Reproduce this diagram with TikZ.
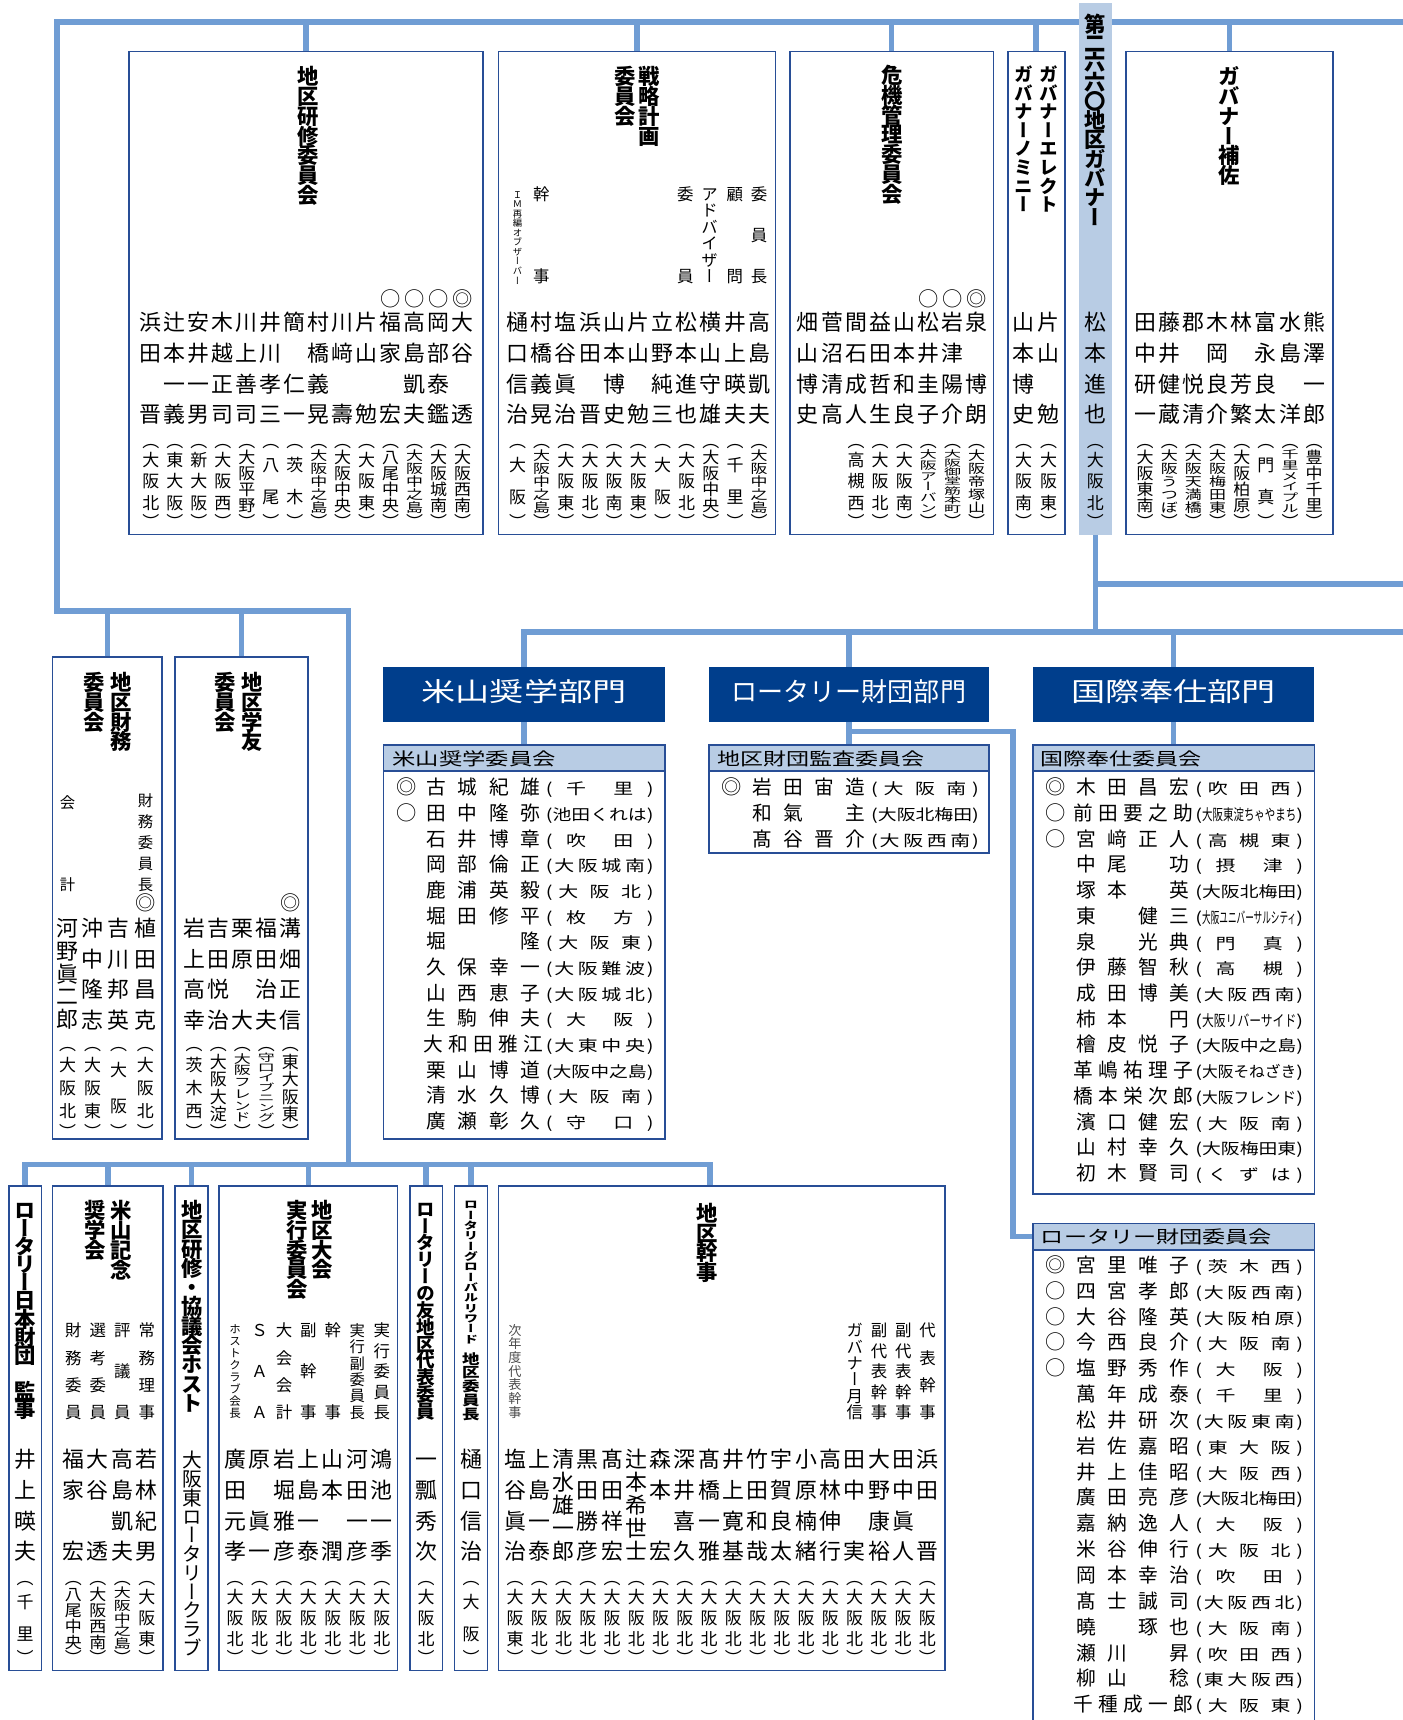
\documentclass[tikz,border=0pt]{standalone}
\usepackage{fontspec}
\usepackage{graphicx}
\usetikzlibrary{fit}
\setmainfont{Noto Sans CJK JP}
\newfontfamily\vertfont[RawFeature=+vert]{Noto Sans CJK JP}
\newfontfamily\widefont[FakeStretch=1.3]{Noto Sans CJK JP}
\definecolor{linecol}{RGB}{112,157,212}
\definecolor{boxcol}{RGB}{40,78,150}
\definecolor{govfill}{RGB}{184,204,228}
\definecolor{deptcol}{RGB}{0,62,140}

\newdimen\upx \upx=0.5690551pt
\newdimen\vje \newdimen\vjd \newcount\vjn
\newdimen\clubH \clubH=58\upx
\newdimen\pshift \pshift=0pt
\newcommand\setfs[1]{\fontsize{#1}{#1}\selectfont}
\def\vjbox#1{\hbox to\vje{\hss\vrule height.88em depth.12em width0pt\relax#1\hss}}
\def\vjcount#1{\ifx#1\relax\else\advance\vjn by1 \expandafter\vjcount\fi}
\def\vtloop#1{\ifx#1\relax\else\vjbox{#1}\vskip\vjd\relax\expandafter\vtloop\fi}
\def\vjbloop#1{\ifx#1\relax\else\vjbox{#1}\vss\expandafter\vjbloop\fi}
\def\vjaloop#1{\ifx#1\relax\else\vss\vjbox{#1}\vss\expandafter\vjaloop\fi}
\def\vjtloop#1{\ifx#1\relax\else\vjbox{#1}\expandafter\vjtloop\fi}
\def\hjaloop#1{\ifx#1\relax\else\hss\hbox{#1}\hss\expandafter\hjaloop\fi}
\newcommand\vt[2][28\upx]{\edef\vttmp{#2}\vbox{\offinterlineskip\vje=1em
  \vjd=#1\relax\advance\vjd by-1em\relax\expandafter\vtloop\vttmp\relax\unskip}}
\newcommand\vjb[2]{\edef\vttmp{#2}\vbox to#1{\offinterlineskip\vje=1em\expandafter\vjbloop\vttmp\relax\unskip}}
\newcommand\vja[2]{\edef\vttmp{#2}\vjn=0 \expandafter\vjcount\vttmp\relax
  \vjd=1em \multiply\vjd by\vjn
  \ifdim\vjd>#1\relax
    \hbox{\resizebox*{\width}{#1}{\vbox{\offinterlineskip\expandafter\vjtloop\vttmp\relax}}}%
  \else
    \vbox to#1{\offinterlineskip\expandafter\vjaloop\vttmp\relax}%
  \fi}
\newcommand\club[2][\clubH]{\vbox{\offinterlineskip\vje=1em
  \vbox to0pt{\vss\vjbox{︵}\kern\pshift}%
  \vja{#1}{#2}%
  \vbox to0pt{\kern\pshift\vjbox{︶}\vss}}}
\newcommand\hja[2]{\edef\vttmp{#2}\setbox0\hbox{\vttmp}%
  \ifdim\wd0>#1\relax\resizebox{#1}{\height}{\vttmp}%
  \else\hbox to#1{\expandafter\hjaloop\vttmp\relax}\fi}
\newcommand\vname[1]{\edef\vttmp{#1}\vjn=0 \expandafter\vjcount\vttmp\relax
  \ifnum\vjn>4 \vjb{101\upx}{\vttmp}\else\vt{\vttmp}\fi}

\tikzset{
  conn/.style={draw=linecol, line width=2.85pt},
  box/.style={draw=boxcol, line width=0.9pt, inner sep=0pt},
  govbox/.style={fill=govfill, inner sep=0pt},
  deptbox/.style={fill=deptcol, inner sep=0pt},
  depttxt/.style={inner sep=0pt, text=white, font=\setfs{13.6pt}, text height=.88em, text depth=.12em},
  headbox/.style={fill=govfill, draw=boxcol, line width=0.9pt, inner sep=0pt},
  headtxt/.style={anchor=west, inner sep=0pt, font=\setfs{9.1pt}, text height=.88em, text depth=.12em},
  ttl/.style={anchor=north, inner sep=0pt, font=\vertfont\bfseries\setfs{11.1pt}},
  ttls/.style={ttl, font=\vertfont\bfseries\setfs{9.67pt}},
  nmcol/.style={anchor=north, inner sep=0pt, font=\vertfont\setfs{11.38pt}},
  clcol/.style={anchor=north, inner sep=0pt, font=\vertfont\setfs{8.82pt}},
  role/.style={anchor=north, inner sep=0pt, font=\vertfont\setfs{8.54pt}},
  mk/.style={inner sep=0pt, font=\setfs{10.53pt}, text height=.88em, text depth=.12em},
  lnm/.style={anchor=west, inner sep=0pt, font=\setfs{10.24pt}, text height=.88em, text depth=.12em},
  lcl/.style={anchor=west, inner sep=0pt, font=\widefont\setfs{7.97pt}, text height=.88em, text depth=.12em},
}

\begin{document}
\begin{tikzpicture}[x=0.02cm,y=-0.02cm]
\useasboundingbox (0,0) rectangle (1280,1570.3);

\coordinate (topL) at (52,20);
\coordinate (topR) at (1290,20);
\coordinate (midL) at (52,558);
\coordinate (midR) at (318,558);
\coordinate (lowL) at (23,1063);
\coordinate (lowR) at (648,1063);
\coordinate (busA) at (1290,533);
\coordinate (busB) at (1290,577);
\coordinate (rfbend) at (925,668);
\draw[conn] (topR) -- (topL) -- (midL) -- (midR) -- (midR |- lowL);

\node[box, fit={(118,47) (441,488)}] (k1) {};
\node[box, fit={(455,47) (708,488)}] (k2) {};
\node[box, fit={(721,47) (907,488)}] (k3) {};
\node[box, fit={(920,47) (972,488)}] (k4) {};
\node[govbox, fit={(985,3) (1015,488)}] (gov) {};
\node[box, fit={(1028,47) (1217,488)}] (k5) {};
\node[box, fit={(48,600) (148,1040)}] (zaimu) {};
\node[box, fit={(160,600) (281,1040)}] (gakuyu) {};
\node[deptbox, fit={(350,609) (607,659)}] (yonedept) {};
\node[deptbox, fit={(647,609) (903,659)}] (rfdept) {};
\node[deptbox, fit={(943,609) (1200,659)}] (intldept) {};
\node[box, fit={(350,680) (607,1040)}] (yonebox) {};
\node[headbox, fit={(350,680) (607,704)}] (yonehd) {};
\node[box, fit={(647,680) (903,779)}] (auditbox) {};
\node[headbox, fit={(647,680) (903,704)}] (audithd) {};
\node[box, fit={(943,680) (1200,1090)}] (intlbox) {};
\node[headbox, fit={(943,680) (1200,704)}] (intlhd) {};
\node[box, fit={(943,1117) (1200,1585)}] (rfbox) {};
\node[headbox, fit={(943,1117) (1200,1141)}] (rfhd) {};
\node[box, fit={(8,1083) (38,1525)}] (nfound) {};
\node[box, fit={(48,1083) (149,1525)}] (yfund) {};
\node[box, fit={(160,1083) (190,1525)}] (hostc) {};
\node[box, fit={(200,1083) (363,1525)}] (taikai) {};
\node[box, fit={(374,1083) (404,1525)}] (tomo) {};
\node[box, fit={(415,1083) (445,1525)}] (grw) {};
\node[box, fit={(455,1083) (863,1525)}] (kanji) {};

\foreach \b in {k1,k2,k3,k4,k5} \draw[conn] (\b.north) -- (\b.north |- topL);
\foreach \b in {zaimu,gakuyu} \draw[conn] (\b.north) -- (\b.north |- midL);
\draw[conn] (nfound.north) -- (nfound.north |- lowL) -- (lowR) -- (lowR |- kanji.north);
\foreach \b in {yfund,hostc,taikai,tomo,grw} \draw[conn] (\b.north) -- (\b.north |- lowL);
\draw[conn] (gov.south) -- (gov.south |- busB);
\draw[conn] (gov.south |- busA) -- (busA);
\draw[conn] (yonedept.north) -- (yonedept.north |- busB) -- (busB);
\foreach \b in {rfdept,intldept} \draw[conn] (\b.north) -- (\b.north |- busB);
\draw[conn] (yonedept.south) -- (yonehd.north);
\draw[conn] (rfdept.south) -- (audithd.north);
\draw[conn] (intldept.south) -- (intlhd.north);
\draw[conn] (rfbend -| rfdept.south) -- (rfbend) |- (rfhd.west);

\node[depttxt] (yonedeptt) at (yonedept.center) {\resizebox{187\upx}{\height}{米山奨学部門}};
\node[depttxt] (rfdeptt) at (rfdept.center) {\resizebox{214\upx}{\height}{ロータリー財団部門}};
\node[depttxt] (intldeptt) at (intldept.center) {\resizebox{187\upx}{\height}{国際奉仕部門}};
\node[headtxt] (yonehdt) at (358,692) {\resizebox{149\upx}{\height}{米山奨学委員会}};
\node[headtxt] (audithdt) at (655,692) {\resizebox{189\upx}{\height}{地区財団監査委員会}};
\node[headtxt] (intlhdt) at (950,692) {\resizebox{147\upx}{\height}{国際奉仕委員会}};
\node[headtxt] (rfhdt) at (950,1129) {\resizebox{211\upx}{\height}{ロータリー財団委員会}};

% top row
\clubH=58.5\upx
\node[ttl] (k1t) at (281,60) {\vt[18\upx]{地区研修委員会}};
\foreach \mrk/\k in {○/11,○/12,○/13,◎/14} \node[mk] (k1m\k) at ({137.7+21.9*(\k-1)},273) {\mrk};
\foreach \nam/\clb [count=\i] in {浜田　晋/大阪北,辻本一義/東大阪,安井一男/新大阪,木越正司/大阪西,川上善司/大阪平野,井川孝三/八尾,簡　仁一/茨木,村橋義晃/大阪中之島,川﨑　壽/大阪中央,片山　勉/大阪東,福家　宏/八尾中央,高島凱夫/大阪中之島,岡部泰鑑/大阪城南,大谷　透/大阪西南}{
  \node[nmcol] (k1n\i) at ({137.7+21.9*(\i-1)},284) {\vname{\nam}};
  \node[clcol] (k1c\i) at ({137.7+21.9*(\i-1)},410) {\club{\clb}};}

\node[ttl] (k2ta) at (593,60) {\vt[18\upx]{戦略計画}};
\node[ttl] (k2tb) at (570.5,60) {\vt[18\upx]{委員会}};
\node[role] (k2r1) at (693.1,169.2) {\vjb{88.5\upx}{委員長}};
\node[role] (k2r2) at (670.8,169.2) {\vjb{88.5\upx}{顧問}};
\node[role] (k2r3) at (647.9,169.2) {\vjb{88.5\upx}{アドバイザー}};
\node[role] (k2r4) at (625.6,169.2) {\vjb{88.5\upx}{委員}};
\node[role] (k2r5) at (494.2,169.2) {\vjb{88.5\upx}{幹事}};
\node[role, font=\vertfont\setfs{4.84pt}] (k2r6) at (472.5,173) {\vjb{86\upx}{ＩＭ再編オブザーバー}};
\foreach \nam/\clb [count=\i] in {樋口信治/大阪,村橋義晃/大阪中之島,塩谷眞治/大阪東,浜田　晋/大阪北,山本博史/大阪南,片山　勉/大阪東,立野純三/大阪,松本進也/大阪北,横山守雄/大阪中央,井上暎夫/千里,高島凱夫/大阪中之島}{
  \node[nmcol] (k2n\i) at ({472.5+22.06*(\i-1)},284) {\vname{\nam}};
  \node[clcol] (k2c\i) at ({472.5+22.06*(\i-1)},410) {\club{\clb}};}

\node[ttl] (k3t) at (814.7,59) {\vt[18\upx]{危機管理委員会}};
\foreach \mrk/\k in {○/6,○/7,◎/8} \node[mk] (k3m\k) at ({737.6+22*(\k-1)},273) {\mrk};
\foreach \nam [count=\i] in {畑山博史,菅沼清高,間石成人,益田哲生,山本和良,松井圭子,岩津陽介,泉　博朗}
  \node[nmcol] (k3n\i) at ({737.6+22*(\i-1)},284) {\vname{\nam}};
\foreach \clb [count=\i from 3] in {高槻西,大阪北,大阪南,大阪アーバン,大阪御堂筋本町,大阪帝塚山}
  \node[clcol] (k3c\i) at ({737.6+22*(\i-1)},410) {\club{\clb}};

\node[ttls] (k4ta) at (957.3,59) {\vt[17\upx]{ガバナーエレクト}};
\node[ttls] (k4tb) at (934.5,59) {\vt[17\upx]{ガバナーノミニー}};
\node[nmcol] (k4na) at (957.3,284) {\vname{片山　勉}};
\node[clcol] (k4ca) at (957.3,410) {\club{大阪東}};
\node[nmcol] (k4nb) at (934.5,284) {\vname{山本博史}};
\node[clcol] (k4cb) at (934.5,410) {\club{大阪南}};

\node[ttl] (govt) at (1000,12) {\vt[17.6\upx]{第二六六〇地区ガバナー}};
\node[nmcol] (govn) at (1000,284) {\vname{松本進也}};
\node[clcol] (govc) at (1000,410) {\club{大阪北}};

\node[ttl] (k5t) at (1122.6,60) {\vt[18\upx]{ガバナー補佐}};
\foreach \nam/\clb [count=\i] in {田中研一/大阪東南,藤井健蔵/大阪うつぼ,郡　悦清/大阪天満橋,木岡良介/大阪梅田東,林　芳繁/大阪柏原,富永良太/門真,水島　洋/千里メイプル,熊澤一郎/豊中千里}{
  \node[nmcol] (k5n\i) at ({1045.5+22.04*(\i-1)},284) {\vname{\nam}};
  \node[clcol] (k5c\i) at ({1045.5+22.04*(\i-1)},410) {\club{\clb}};}

% left boxes
\clubH=64\upx
\node[ttl] (zaimuta) at (110.5,613) {\vt[18\upx]{地区財務}};
\node[ttl] (zaimutb) at (86,613) {\vt[18\upx]{委員会}};
\node[role, font=\vertfont\setfs{7.97pt}] (zaimur1) at (132.8,723.7) {\vjb{88.6\upx}{財務委員長}};
\node[role, font=\vertfont\setfs{7.97pt}] (zaimur2) at (61.7,725) {\vjb{87.3\upx}{会計}};
\node[mk] (zaimum) at (132.8,825) {◎};
\foreach \nam/\clb/\x [count=\i] in {河野眞二郎/大阪北/61.7,沖中隆志/大阪東/84.6,吉川邦英/大阪/108.4,植田昌克/大阪北/132.8}{
  \node[nmcol] (zaimun\i) at (\x,837) {\vname{\nam}};
  \node[clcol] (zaimuc\i) at (\x,961) {\club{\clb}};}

\node[ttl] (gakuyuta) at (230.3,613) {\vt[18\upx]{地区学友}};
\node[ttl] (gakuyutb) at (206,613) {\vt[18\upx]{委員会}};
\node[mk] (gakuyum) at (265.1,825) {◎};
\foreach \nam/\clb [count=\i] in {岩上高幸/茨木西,吉田悦治/大阪大淀,栗原　大/大阪フレンド,福田治夫/守口イブニング,溝畑正信/東大阪東}{
  \node[nmcol] (gakuyun\i) at ({177.3+21.95*(\i-1)},837) {\vname{\nam}};
  \node[clcol] (gakuyuc\i) at ({177.3+21.95*(\i-1)},961) {\club{\clb}};}

% bottom row
\clubH=58\upx
\node[ttl] (nfoundt) at (23,1095) {\vt[16.5\upx]{ロータリー日本財団　監事}};
\node[nmcol] (nfoundn) at (23,1322) {\vname{井上暎夫}};
\node[clcol] (nfoundc) at (23,1448) {\club{千里}};

\node[ttl] (yfundta) at (111,1095) {\vt[18.3\upx]{米山記念}};
\node[ttl] (yfundtb) at (86.8,1095) {\vt[18.3\upx]{奨学会}};
\foreach \r [count=\i] in {財務委員,選考委員,評議員,常務理事}
  \node[role] (yfundr\i) at ({67+22.33*(\i-1)},1207) {\vjb{87.7\upx}{\r}};
\foreach \nam/\clb [count=\i] in {福家　宏/八尾中央,大谷　透/大阪西南,高島凱夫/大阪中之島,若林紀男/大阪東}{
  \node[nmcol] (yfundn\i) at ({67+22.33*(\i-1)},1322) {\vname{\nam}};
  \node[clcol] (yfundc\i) at ({67+22.33*(\i-1)},1448) {\club{\clb}};}

\node[ttl] (hostct) at (175.5,1095) {\vt[17.6\upx]{地区研修・協議会ホスト}};
\node[nmcol, font=\vertfont\setfs{10.24pt}] (hostcn) at (175.5,1324) {\vt[17.1\upx]{大阪東ロータリークラブ}};

\node[ttl] (taikaita) at (293.8,1095) {\vt[18\upx]{地区大会}};
\node[ttl] (taikaitb) at (271,1095) {\vt[18\upx]{実行委員会}};
\node[role, font=\vertfont\setfs{5.98pt}] (taikair1) at (214.6,1208) {\vjb{85.7\upx}{ホストクラブ会長}};
\node[role] (taikair2) at (236.9,1207) {\vjb{87.7\upx}{ＳＡＡ}};
\node[role] (taikair3) at (259.3,1207) {\vjb{87.7\upx}{大会会計}};
\node[role] (taikair4) at (281.6,1207) {\vjb{87.7\upx}{副幹事}};
\node[role] (taikair5) at (303.9,1207) {\vjb{87.7\upx}{幹事}};
\node[role, font=\vertfont\setfs{7.97pt}] (taikair6) at (326.2,1207.5) {\vjb{86.8\upx}{実行副委員長}};
\node[role] (taikair7) at (348.6,1207) {\vjb{87.7\upx}{実行委員長}};
\foreach \nam [count=\i] in {廣田元孝,原　眞一,岩堀雅彦,上島一泰,山本　潤,河田一彦,鴻池一季}{
  \node[nmcol] (taikain\i) at ({214.6+22.33*(\i-1)},1322) {\vname{\nam}};
  \node[clcol] (taikaic\i) at ({214.6+22.33*(\i-1)},1448) {\club{大阪北}};}

\node[ttls] (tomot) at (389,1095) {\vt[15.4\upx]{ロータリーの友地区代表委員}};
\node[nmcol] (tomon) at (389,1322) {\vname{一瓢秀次}};
\node[clcol] (tomoc) at (389,1448) {\club{大阪北}};

\node[ttl, font=\vertfont\bfseries\setfs{7.4pt}] (grwta) at (430,1095) {\resizebox*{\width}{132\upx}{\vt[13\upx]{ロータリーグローバルリワード}}};
\node[ttl, font=\vertfont\bfseries\setfs{9.1pt}] (grwtb) at (430,1234) {\resizebox*{\width}{63\upx}{\vt[16\upx]{地区委員長}}};
\node[nmcol] (grwn) at (430,1322) {\vname{樋口信治}};
\node[clcol] (grwc) at (430,1448) {\club{大阪}};

\node[ttl] (kanjit) at (646,1098) {\vt[17.7\upx]{地区幹事}};
\node[role, font=\vertfont\setfs{6.83pt}, text=black!70] (kanjir1) at (470.2,1208) {\vjb{85.6\upx}{次年度代表幹事}};
\node[role] (kanjir15) at (780.4,1207) {\vjb{87.7\upx}{ガバナー月信}};
\node[role] (kanjir16) at (802.6,1207) {\vjb{87.7\upx}{副代表幹事}};
\node[role] (kanjir17) at (824.7,1207) {\vjb{87.7\upx}{副代表幹事}};
\node[role] (kanjir18) at (846.8,1207) {\vjb{87.7\upx}{代表幹事}};
\foreach \nam/\clb [count=\i] in {塩谷眞治/大阪東,上島一泰/大阪北,清水雄一郎/大阪北,黒田勝彦/大阪北,髙田祥宏/大阪北,辻本希世士/大阪北,森本　宏/大阪北,深井喜久/大阪北,髙橋一雅/大阪北,井上寛基/大阪北,竹田和哉/大阪北,宇賀良太/大阪北,小原楠緒/大阪北,高林伸行/大阪北,田中　実/大阪北,大野康裕/大阪北,田中眞人/大阪北,浜田　晋/大阪北}{
  \node[nmcol] (kanjin\i) at ({470.2+22.15*(\i-1)},1322) {\vname{\nam}};
  \node[clcol] (kanjic\i) at ({470.2+22.15*(\i-1)},1448) {\club{\clb}};}

% horizontal lists
\foreach \mrk/\nam/\clb [count=\i] in {◎/古城紀雄/千里,○/田中隆弥/池田くれは,/石井博章/吹田,/岡部倫正/大阪城南,/鹿浦英毅/大阪北,/堀田修平/枚方,/堀　　隆/大阪東,/久保幸一/大阪難波,/山西恵子/大阪城北,/生駒伸夫/大阪,/大和田雅江/大東中央,/栗山博道/大阪中之島,/清水久博/大阪南,/廣瀬彰久/守口}{
  \node[mk] (ym\i) at (371,{719+23.42*(\i-1)}) {\mrk};
  \node[lnm] (yn\i) at (384,{719+23.42*(\i-1)}) {\hja{114\upx}{\nam}};
  \node[lcl] (yc\i) at (498,{719+23.42*(\i-1)}) {(\hja{86\upx}{\clb})};}

\foreach \mrk/\nam/\clb [count=\i] in {◎/岩田宙造/大阪南,/和氣　主/大阪北梅田,/髙谷晋介/大阪西南}{
  \node[mk] (am\i) at (668,{719+23.5*(\i-1)}) {\mrk};
  \node[lnm] (an\i) at (681,{719+23.5*(\i-1)}) {\hja{114\upx}{\nam}};
  \node[lcl] (ac\i) at (795,{719+23.5*(\i-1)}) {(\hja{86\upx}{\clb})};}

\foreach \mrk/\nam/\clb [count=\i] in {◎/木田昌宏/吹田西,○/前田要之助/大阪東淀ちゃやまち,○/宮﨑正人/高槻東,/中尾　功/摂津,/塚本　英/大阪北梅田,/東　健三/大阪ユニバーサルシティ,/泉　光典/門真,/伊藤智秋/高槻,/成田博美/大阪西南,/柿本　円/大阪リバーサイド,/檜皮悦子/大阪中之島,/革嶋祐理子/大阪そねざき,/橋本栄次郎/大阪フレンド,/濱口健宏/大阪南,/山村幸久/大阪梅田東,/初木賢司/くずは}{
  \node[mk] (im\i) at (964,{719+23.47*(\i-1)}) {\mrk};
  \node[lnm] (in\i) at (977,{719+23.47*(\i-1)}) {\hja{114\upx}{\nam}};
  \node[lcl] (ic\i) at (1091,{719+23.47*(\i-1)}) {(\hja{86\upx}{\clb})};}

\foreach \mrk/\nam/\clb [count=\i] in {◎/宮里唯子/茨木西,○/四宮孝郎/大阪西南,○/大谷隆英/大阪柏原,○/今西良介/大阪南,○/塩野秀作/大阪,/萬年成泰/千里,/松井研次/大阪東南,/岩佐嘉昭/東大阪,/井上佳昭/大阪西,/廣田亮彦/大阪北梅田,/嘉納逸人/大阪,/米谷伸行/大阪北,/岡本幸治/吹田,/髙士誠司/大阪西北,/曉　琢也/大阪南,/瀬川　昇/吹田西,/柳山　稔/東大阪西,/千種成一郎/大阪東}{
  \node[mk] (rm\i) at (964,{1155+23.59*(\i-1)}) {\mrk};
  \node[lnm] (rn\i) at (977,{1155+23.59*(\i-1)}) {\hja{114\upx}{\nam}};
  \node[lcl] (rc\i) at (1091,{1155+23.59*(\i-1)}) {(\hja{86\upx}{\clb})};}
\end{tikzpicture}
\end{document}
